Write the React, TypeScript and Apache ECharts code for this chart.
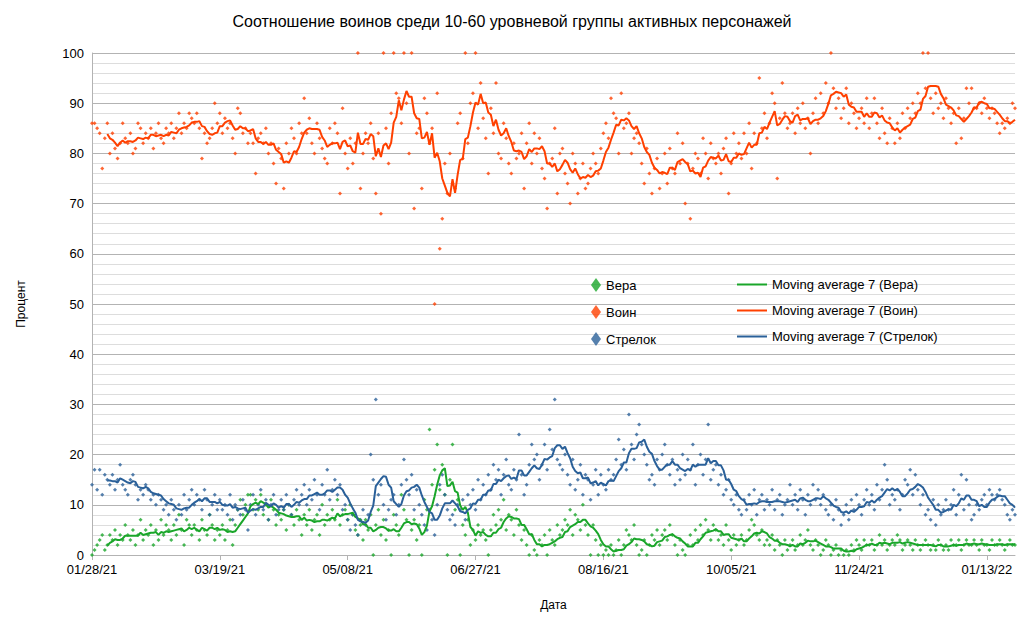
import React, { useEffect, useRef } from "react";
import * as echarts from "echarts";

const startDate = Date.UTC(2021, 0, 28);
const titleText = "Соотношение воинов среди 10-60 уровневой группы активных персонажей";
const seriesNames = ["Вера", "Воин", "Стрелок"];
const maNames = ["Moving average 7 (Вера)", "Moving average 7 (Воин)", "Moving average 7 (Стрелок)"];
const colors = ["#1aa62a", "#ff4000", "#2a6099"];

const voin = [
86,86,85,84,77,83,86,80,84,81, 79,82,86,83,82,84,80,81,86,85, 82,84,83,85,81,84,86,83,82,85,
84,86,83,85,88,84,86,85,88,87, 86,88,85,79,84,82,83,85,90,86, 88,84,87,85,86,83,80,89,88,84,
85,82,84,82, 76,83,84,82,85,80,82,78,74,81, 79,73,82,80,85,83,80,86,84,91,
84,87,82,80,86,83,81,79,78,85, 82,86,84,72,89, 80,77,83,78,82,
100,73,80,84,82,86,79,72,84,68, 100,85,78,88,100,92,91,86,100,90, 80,100,69,84,85,73,91,88,82,85,
50,92,61,67,78,72,80,74,73,86, 88,79,100,82,90,92,100,85,94,87, 83,76,89,84,94,80,79,86,83,78,
76,82,79,80,84,73,82,86,78,84, 80,83,77,75,69,78,79,85,72,80, 81,76,74,70,80,78,72,75,78,73,
74,77,80,78,76,81,84,86,83,91, 88,87,80,92,85,86,88,80,83,84, 82,78,74,81,76,72,77,79,73,76,
80,74,81,77,76,84,78,82,70,78, 67,77,80,79,76,83,80,75,82,79, 78,80,76,81,83,72,78,84,80,82,
79,84,80,86,77,84,82,95,85,88, 83,86,92,90,75,87,94,88,85,86, 88,84,89,86,90,85,87,80,88,91,
86,92,88,94,90,100,93,89,91,87, 89,93,86,90,88,85,87,89,86,91, 85,88,91,86,83,89,84,82,87,85,
82,86,83,88,85,89,87,90,88,92, 90,100,93,100,91,88,92,89,90,87, 91,89,86,88,82,89,83,87,93,90,
93,89, 89,90,88,91,89,87,89,88,86,84,86,85,87,86,90,89];

const strelok = [
14,17,13,17,12,16,15,14,16,13, 15,18,14,13,12,15,16,14,11,13, 12,14,13,11,12,10,12,11,9,10,
8,11,9,7,10,8,12,9,11,13, 10,12,11,9,13,11,8,10,12,9, 11,9,10,8,12,7,10,9,8,11,
9,5,10,12, 8,10,13,9,11,7,10,12,8,9, 11,9,12,10,8,11,13,10,12,14,
10,13,11,15,12,9,14,12,17,11, 13,15,12,14,9, 10,7,5,8,6,
4,7,9,6,8,20,15,31,12,14, 10,7,9,11,12,8,10,14,19,15, 12,16,9,13,10,8,6,5,9,7,
4,10,14,16,12,9,7,8,6,10, 9,11,7,12,10,13,9,15,11,14, 12,16,13,18,15,17,12,16,19,14,
13,17,15,24,16,12,14,18,22,19, 20,15,18,22,17,25,21,31,19,18, 17,20,16,14,19,13,15,18,12,16,
15,11,14,17,12,16,14,13,17,15, 16,19,23,18,21,17,28,22,19,24, 26,22,20,18,15,16,14,19,17,20,
22,18,16,19,14,17,15,20,16,19, 17,22,14,18,20,16,19,26,15,17, 18,14,16,12,13,15,11,10,12,9,
8,11,9,12,10,13,8,11,12,9, 11,10,13,9,11,12,8,10,11,14, 10,12,9,13,11,8,12,10,14,11,
13,10,12,9,8,10,7,11,9,6, 8,10,7,11,9,12,10,8,11,13, 10,12,9,14,11,13,18,15,10,12,
11,13,9,12,15,14,17,12,16,13, 10,12,8,9,7,11,6,10,8,9, 11,9,10,13,8,12,16,9,15,10,
7,8, 10,9,11,12,10,13,12,11,12,13,11,10,8,7,9,8];

const vera = [
0,1,2,3,4,1,2,4,3,5, 2,4,3,6,4,3,5,2,4,7, 3,5,4,6,2,5,3,7,4,6,
5,3,6,4,8,5,2,7,6,4, 6,5,3,7,5,4,8,6,3,5, 4,6,3,5,7,2,6,9,11,8,
10,12,12,9, 11,9,12,8,10,7,11,9,6,8, 7,9,5,10,8,6,9,7,4,8,
6,9,5,7,8,4,10,6,8,7, 9,7,11,6,8, 9,7,10,8,5,
4,6,3,7,5,8,0,6,9,4, 7,3,5,0,8,6,4,12,9,7, 0,5,7,3,6,0,11,9,25,14,
17,22,13,18,12,0,15,22,9,11, 0,6,4,7,2,5,3,6,4,5, 3,0,5,8,6,9,7,11,5,8,
7,4,9,6,3,5,2,0,4,1, 0,3,2,4,0,5,3,2,6,4, 5,7,6,9,4,8,7,5,10,6,
4,0,6,3,0,2,0,1,0,2, 0,1,3,0,2,5,4,3,6,2, 0,1,3,0,2,4,3,5,2,4,
5,3,6,4,2,0,3,1,0,2, 4,2,5,3,6,4,7,5,3,6, 5,3,4,2,6,3,1,4,2,3,
4,2,3,5,7,6,4,3,5,2, 3,2,4,1,3,2,0,3,1,2, 3,1,2,4,2,3,5,2,1,3,
2,0,1,3,2,0,1,2,0,1, 0,1,0,2,1,3,2,1,3,2, 2,3,1,2,4,2,3,1,2,3,
2,4,3,1,2,3,2,1,3,2, 1,2,3,2,1,2,1,3,2,1, 2,1,3,2,2,3,1,2,3,2,
2,3, 2,1,3,2,2,1,3,2,2,3,2,1,2,3,2,2];

const rawSeries = [vera, voin, strelok];

function movingAvg(arr: number[]) {
  const out: number[][] = [];
  for (let i = 6; i < arr.length; i++) {
    let s = 0;
    for (let j = i - 6; j <= i; j++) s += arr[j];
    out.push([i, s / 7]);
  }
  return out;
}

function fmtDate(d: number) {
  const dt = new Date(startDate + d * 86400000);
  const p = (n: number) => String(n).padStart(2, "0");
  return `${p(dt.getUTCMonth() + 1)}/${p(dt.getUTCDate())}/${p(dt.getUTCFullYear() % 100)}`;
}

export default function App() {
  const ref = useRef<HTMLDivElement>(null);
  useEffect(() => {
    const chart = echarts.init(ref.current!, null, { renderer: "svg" });
    const font = "Liberation Sans";
    const series: any[] = [];
    rawSeries.forEach((arr, k) => {
      series.push({
        name: seriesNames[k], type: "scatter", symbol: "diamond", symbolSize: 4,
        itemStyle: { color: colors[k] }, data: arr.map((v, i) => [i, v]), z: 2,
      });
    });
    rawSeries.forEach((arr, k) => {
      series.push({
        name: maNames[k], type: "line", showSymbol: false, symbol: "none",
        lineStyle: { color: colors[k], width: 2 }, itemStyle: { color: colors[k] },
        data: movingAvg(arr), z: 3,
      });
    });
    chart.setOption({
      animation: false,
      textStyle: { fontFamily: font },
      title: { text: titleText, left: "center", top: 8, textStyle: { fontSize: 16, fontWeight: "normal", color: "#000", fontFamily: font } },
      legend: [
        { data: seriesNames.map((n) => ({ name: n, icon: "diamond" })), orient: "vertical", left: 586, top: 273, itemGap: 13, itemWidth: 10, itemHeight: 14, textStyle: { fontSize: 13, color: "#000" } },
        { data: maNames, orient: "vertical", left: 732, top: 273, itemGap: 13, itemWidth: 30, itemHeight: 14, icon: "path://M0,6L30,6L30,8L0,8Z", textStyle: { fontSize: 13, color: "#000" } },
      ],
      grid: { left: 92, right: 9, top: 53, bottom: 66 },
      xAxis: {
        type: "value", min: 0, max: 361, interval: 50,
        name: "Дата", nameLocation: "middle", nameGap: 44, nameTextStyle: { fontSize: 12, color: "#000" },
        axisLine: { lineStyle: { color: "#b3b3b3" } }, axisTick: { show: true, lineStyle: { color: "#b3b3b3" } },
        axisLabel: { formatter: (v: number) => fmtDate(v), fontSize: 13, color: "#000", showMaxLabel: false },
        splitLine: { show: false },
      },
      yAxis: {
        type: "value", min: 0, max: 100, interval: 10,
        name: "Процент", nameLocation: "middle", nameGap: 65, nameTextStyle: { fontSize: 12, color: "#000" },
        axisLine: { show: true, lineStyle: { color: "#b3b3b3" } }, axisTick: { show: false },
        axisLabel: { fontSize: 13, color: "#000" },
        splitLine: { lineStyle: { color: "#b3b3b3" } },
        minorTick: { show: false, splitNumber: 5 },
        minorSplitLine: { show: true, lineStyle: { color: "#dddddd" } },
      },
      series,
    });
    return () => chart.dispose();
  }, []);
  return <div ref={ref} style={{ position: "fixed", left: 0, top: 0, width: 1024, height: 621, background: "#fff" }} />;
}
